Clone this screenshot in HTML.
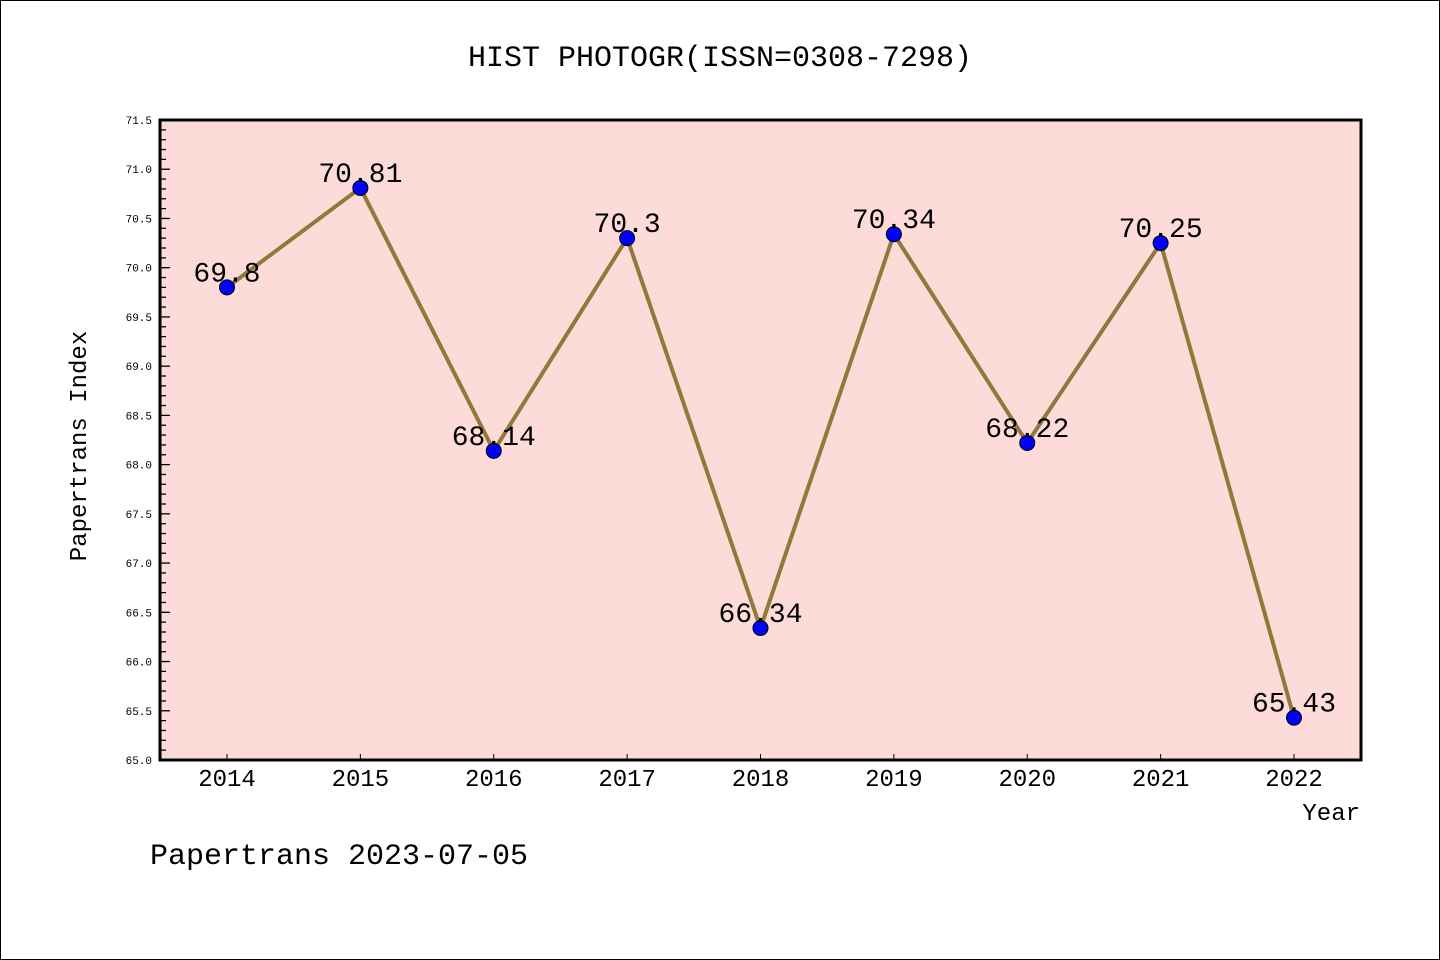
<!DOCTYPE html>
<html><head><meta charset="utf-8"><style>
html,body{margin:0;padding:0;background:#fff}
svg{display:block}
text{font-family:"WenQuanYi Zen Hei Mono","Liberation Mono",monospace}
</style></head><body>
<svg id="chart" width="1440" height="960" xmlns="http://www.w3.org/2000/svg">
<rect x="0.5" y="0.5" width="1439" height="959" fill="#fff" stroke="#000"/>
<text x="720" y="66" font-size="30" text-anchor="middle">HIST PHOTOGR(ISSN=0308-7298)</text>
<rect x="160" y="120" width="1201" height="640" fill="#fddbd8"/>
<g id="yticks"></g>
<g id="xticks"></g>
<g id="series"></g>
<rect x="160" y="120" width="1201" height="640" fill="none" stroke="#000" stroke-width="3"/>
<text x="86" y="446" font-size="24" text-anchor="middle" transform="rotate(-90 86 446)">Papertrans Index</text>
<text x="1360" y="820" font-size="24" text-anchor="end">Year</text>
<text x="150" y="864" font-size="30">Papertrans 2023-07-05</text>
</svg>
<script>
const years = [2014,2015,2016,2017,2018,2019,2020,2021,2022];
const values = [69.8,70.81,68.14,70.3,66.34,70.34,68.22,70.25,65.43];
const labels = ["69.8","70.81","68.14","70.3","66.34","70.34","68.22","70.25","65.43"];
const yTickLabels = ["65.0","65.5","66.0","66.5","67.0","67.5","68.0","68.5","69.0","69.5","70.0","70.5","71.0","71.5"];
const NS="http://www.w3.org/2000/svg";
const yMin=65, yMax=71.5, plotTop=120, plotBot=760;
const xs=yr=>227+(yr-2014)*(1294-227)/8;
const ys=v=>plotBot-(v-yMin)/(yMax-yMin)*(plotBot-plotTop);
function mk(t,a,p){const e=document.createElementNS(NS,t);for(const k in a)e.setAttribute(k,a[k]);p.appendChild(e);return e;}
const yg=document.getElementById('yticks');
for(let i=0;i<=65;i++){const v=yMin+i*0.1;const big=i%5===0;
 const l=mk('line',{x1:160,x2:160+(big?10:6),y1:ys(v),y2:ys(v),stroke:'#000','stroke-width':1.3},yg);
 
 }
yTickLabels.forEach(s=>{const t=mk('text',{x:152,y:ys(parseFloat(s))+4,'font-size':11,'text-anchor':'end'},yg);t.textContent=s;
 
 });
const xg=document.getElementById('xticks');
years.forEach(yr=>{const l=mk('line',{x1:xs(yr),x2:xs(yr),y1:plotBot,y2:plotBot-6,stroke:'#000','stroke-width':1},xg);
 
 
 const t=mk('text',{x:xs(yr),y:plotBot+26,'font-size':24,'text-anchor':'middle'},xg);t.textContent=yr;
 
 });
const sg=document.getElementById('series');
const pl=mk('polyline',{points:years.map((yr,i)=>xs(yr)+','+ys(values[i])).join(' '),fill:'none',stroke:'#8f7a3a','stroke-width':4},sg);


years.forEach((yr,i)=>{const c=mk('circle',{cx:xs(yr),cy:ys(values[i]),r:7.5,fill:'#0000ff',stroke:'#000','stroke-width':1},sg);
 
 
 const t=mk('text',{x:xs(yr),y:ys(values[i])-6,'font-size':28,'text-anchor':'middle'},sg);t.textContent=labels[i];
 
 });
</script>
</body></html>
